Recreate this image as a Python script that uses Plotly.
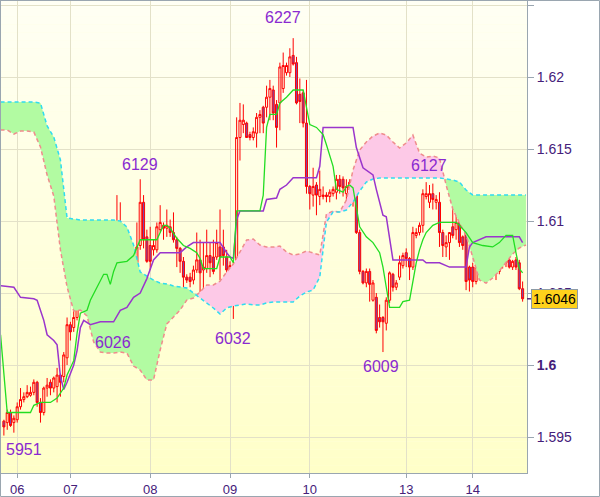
import plotly.graph_objects as go

# ---------------- data ----------------
candle_idx = list(range(1, 158))
opens = [1.5961,1.5960,1.5967,1.5960,1.5962,1.5971,1.5976,1.5978,1.5979,1.5981,
         1.5988,1.5974,1.5967,1.5984,1.5988,1.5984,1.5985,1.5993,1.5992,1.6005,
         1.6028,1.6026,1.6033,1.6063,1.6076,1.6082,1.6081,1.6081,1.6073,1.6058,
         1.6044,1.6038,1.6047,1.6054,1.6066,1.6095,1.6090,1.6090,1.6047,1.6064,
         1.6071,1.6083,1.6113,1.6089,1.6083,1.6080,1.6080,1.6094,1.6097,1.6095,
         1.6096,1.6092,1.6087,1.6081,1.6072,1.6061,1.6061,1.6059,1.6066,1.6073,
         1.6066,1.6067,1.6076,1.6075,1.6075,1.6082,1.6082,1.6075,1.6066,1.6069,
         1.6043,1.6158,1.6167,1.6168,1.6160,1.6158,1.6161,1.6172,1.6179,1.6179,
         1.6186,1.6191,1.6181,1.6182,1.6192,1.6203,1.6203,1.6215,1.6210,1.6188,
         1.6189,1.6168,1.6124,1.6118,1.6125,1.6117,1.6117,1.6118,1.6117,1.6119,
         1.6120,1.6129,1.6129,1.6119,1.6123,1.6127,1.6126,1.6092,1.6065,1.6057,
         1.6065,1.6045,1.6047,1.6033,1.6033,1.6029,1.6045,1.6063,1.6054,1.6061,
         1.6069,1.6078,1.6074,1.6068,1.6090,1.6092,1.6097,1.6117,1.6113,1.6119,
         1.6113,1.6113,1.6092,1.6082,1.6085,1.6096,1.6094,1.6099,1.6089,1.6092,
         1.6068,1.6068,1.6058,1.6063,1.6069,1.6068,1.6085,1.6080,1.6073,1.6065,
         1.6072,1.6074,1.6073,1.6068,1.6073,1.6071,1.6053]
highs = [1.5962,1.5969,1.5969,1.5965,1.5974,1.5984,1.5981,1.5986,1.5985,1.5990,
         1.5989,1.5977,1.5985,1.5991,1.5990,1.5992,1.5998,1.5994,1.6009,1.6033,
         1.6030,1.6040,1.6080,1.6099,1.6085,1.6086,1.6085,1.6083,1.6074,1.6059,
         1.6047,1.6050,1.6066,1.6068,1.6118,1.6113,1.6095,1.6092,1.6073,1.6082,
         1.6099,1.6129,1.6118,1.6094,1.6096,1.6087,1.6099,1.6111,1.6099,1.6108,
         1.6101,1.6106,1.6089,1.6082,1.6075,1.6063,1.6064,1.6069,1.6092,1.6087,
         1.6085,1.6094,1.6085,1.6087,1.6094,1.6108,1.6094,1.6080,1.6072,1.6072,
         1.6172,1.6182,1.6181,1.6169,1.6162,1.6165,1.6175,1.6177,1.6180,1.6194,
         1.6198,1.6194,1.6184,1.6210,1.6217,1.6210,1.6220,1.6227,1.6214,1.6199,
         1.6191,1.6198,1.6125,1.6137,1.6127,1.6135,1.6124,1.6120,1.6122,1.6124,
         1.6132,1.6132,1.6131,1.6129,1.6129,1.6129,1.6127,1.6094,1.6066,1.6067,
         1.6067,1.6059,1.6050,1.6042,1.6034,1.6047,1.6065,1.6064,1.6059,1.6076,
         1.6078,1.6081,1.6075,1.6096,1.6095,1.6099,1.6122,1.6127,1.6125,1.6126,
         1.6118,1.6120,1.6094,1.6090,1.6092,1.6116,1.6108,1.6100,1.6090,1.6093,
         1.6069,1.6071,1.6071,1.6071,1.6071,1.6113,1.6099,1.6082,1.6075,1.6075,
         1.6078,1.6078,1.6075,1.6073,1.6075,1.6073,1.6058]
lows = [1.5951,1.5955,1.5957,1.5953,1.5960,1.5969,1.5974,1.5977,1.5978,1.5979,
        1.5971,1.5960,1.5965,1.5978,1.5979,1.5981,1.5974,1.5978,1.5988,1.6000,
        1.6017,1.6023,1.6031,1.6052,1.6073,1.6078,1.6080,1.6072,1.6053,1.6038,
        1.6026,1.6031,1.6040,1.6052,1.6064,1.6075,1.6066,1.6047,1.6040,1.6054,
        1.6066,1.6080,1.6081,1.6071,1.6066,1.6076,1.6078,1.6092,1.6087,1.6089,
        1.6089,1.6085,1.6068,1.6064,1.6054,1.6057,1.6054,1.6056,1.6064,1.6047,
        1.6052,1.6064,1.6061,1.6063,1.6073,1.6059,1.6069,1.6059,1.6063,1.6032,
        1.6042,1.6142,1.6161,1.6158,1.6156,1.6156,1.6151,1.6161,1.6161,1.6172,
        1.6170,1.6170,1.6151,1.6163,1.6189,1.6201,1.6200,1.6208,1.6181,1.6168,
        1.6165,1.6119,1.6108,1.6110,1.6104,1.6111,1.6115,1.6113,1.6113,1.6117,
        1.6115,1.6119,1.6117,1.6113,1.6113,1.6110,1.6091,1.6063,1.6056,1.6054,
        1.6044,1.6044,1.6022,1.6026,1.6009,1.6024,1.6043,1.6051,1.6052,1.6059,
        1.6067,1.6068,1.6059,1.6066,1.6088,1.6090,1.6092,1.6115,1.6109,1.6108,
        1.6108,1.6082,1.6075,1.6075,1.6073,1.6088,1.6087,1.6082,1.6080,1.6052,
        1.6051,1.6054,1.6056,1.6059,1.6059,1.6064,1.6068,1.6066,1.6059,1.6063,
        1.6067,1.6068,1.6067,1.6066,1.6066,1.6052,1.6044]
closes = [1.5957,1.5967,1.5958,1.5963,1.5971,1.5976,1.5978,1.5981,1.5981,1.5988,
          1.5974,1.5967,1.5984,1.5986,1.5984,1.5991,1.5993,1.5988,1.6007,1.6028,
          1.6023,1.6033,1.6063,1.6080,1.6082,1.6083,1.6083,1.6073,1.6058,1.6044,
          1.6038,1.6047,1.6054,1.6066,1.6094,1.6090,1.6092,1.6047,1.6064,1.6071,
          1.6082,1.6113,1.6087,1.6072,1.6072,1.6083,1.6096,1.6099,1.6095,1.6097,
          1.6092,1.6087,1.6081,1.6072,1.6061,1.6059,1.6058,1.6066,1.6073,1.6064,
          1.6068,1.6076,1.6071,1.6065,1.6085,1.6075,1.6076,1.6066,1.6069,1.6043,
          1.6158,1.6170,1.6170,1.6158,1.6158,1.6162,1.6172,1.6174,1.6168,1.6186,
          1.6192,1.6175,1.6165,1.6207,1.6208,1.6208,1.6214,1.6209,1.6182,1.6183,
          1.6168,1.6124,1.6119,1.6124,1.6118,1.6122,1.6118,1.6117,1.6120,1.6122,
          1.6129,1.6124,1.6123,1.6124,1.6127,1.6123,1.6092,1.6065,1.6057,1.6065,
          1.6056,1.6057,1.6024,1.6030,1.6030,1.6045,1.6064,1.6054,1.6057,1.6071,
          1.6076,1.6074,1.6068,1.6092,1.6092,1.6097,1.6119,1.6119,1.6119,1.6115,
          1.6115,1.6092,1.6083,1.6085,1.6092,1.6090,1.6099,1.6085,1.6083,1.6058,
          1.6059,1.6058,1.6068,1.6069,1.6063,1.6083,1.6075,1.6068,1.6068,1.6073,
          1.6076,1.6071,1.6068,1.6072,1.6068,1.6053,1.6046]

tenkan_idx = [0,2,5,9,10,12,15,17,19,20,22,23,24,26,27,29,31,32,33,34,35,38,40,42,47,49,50,51,
              53,55,57,59,60,61,65,66,69,70,71,78,79,80,81,83,84,86,88,91,92,93,95,97,98,99,
              100,101,103,104,105,106,107,108,110,112,114,115,116,117,120,121,123,124,125,126,
              127,128,130,132,137,138,140,142,145,148,150,152,154,155,156,157]
tenkan_val = [1.6021,1.5967,1.5967,1.5967,1.5972,1.5974,1.5974,1.5977,1.5984,1.5993,1.6003,
              1.6022,1.6036,1.6038,1.6045,1.6054,1.6063,1.6063,1.6056,1.6065,1.6071,1.6072,
              1.6076,1.6087,1.6087,1.6097,1.6097,1.6095,1.6088,1.6083,1.6081,1.6078,1.6074,
              1.6067,1.6067,1.6075,1.6075,1.6071,1.6107,1.6107,1.6118,1.6165,1.6174,1.6174,
              1.6182,1.6186,1.6191,1.6191,1.6179,1.6167,1.6165,1.6160,1.6153,1.6146,1.6138,
              1.6122,1.6120,1.6124,1.6125,1.6123,1.6108,1.6096,1.6089,1.6085,1.6078,1.6068,
              1.6054,1.6040,1.6040,1.6044,1.6045,1.6059,1.6071,1.6080,1.6087,1.6092,1.6097,
              1.6099,1.6099,1.6097,1.6092,1.6085,1.6083,1.6082,1.6085,1.6090,1.6090,1.6078,
              1.6067,1.6064]

kijun_idx = [0,4,6,10,11,13,14,16,17,18,19,20,22,23,24,25,27,30,34,36,38,40,42,44,46,48,54,
             56,58,66,68,69,70,71,72,79,80,83,84,86,88,95,96,97,106,107,109,112,113,115,116,
             118,127,128,132,135,140,141,142,144,146,156,157]
kijun_val = [1.6055,1.6054,1.6047,1.6046,1.6045,1.6031,1.6021,1.6017,1.6014,1.5992,1.5983,
             1.5988,1.6000,1.6010,1.6026,1.6031,1.6028,1.6030,1.6030,1.6038,1.6040,1.6047,
             1.6050,1.6060,1.6073,1.6078,1.6078,1.6082,1.6085,1.6085,1.6078,1.6075,1.6074,
             1.6101,1.6107,1.6107,1.6115,1.6116,1.6122,1.6125,1.6130,1.6130,1.6138,1.6165,
             1.6165,1.6151,1.6137,1.6132,1.6122,1.6104,1.6103,1.6073,1.6073,1.6071,1.6071,
             1.6068,1.6068,1.6082,1.6085,1.6087,1.6089,1.6089,1.6085]

cloud_idx = list(range(0, 159, 2))
span_a = [1.61826,1.61826,1.61826,1.61826,1.61826,1.61826,1.61819,1.61660,1.61583,1.61424,
          1.61021,1.61014,1.61007,1.61007,1.61007,1.61007,1.61007,1.61007,1.61000,1.60958,
          1.60833,1.60646,1.60618,1.60590,1.60569,1.60563,1.60549,1.60542,1.60535,1.60500,
          1.60465,1.60431,1.60396,1.60354,1.60396,1.60410,1.60417,1.60424,1.60417,1.60417,
          1.60431,1.60438,1.60438,1.60438,1.60438,1.60479,1.60507,1.60521,1.60611,1.60993,
          1.61063,1.61063,1.61076,1.61132,1.61208,1.61271,1.61292,1.61299,1.61299,1.61299,
          1.61299,1.61299,1.61299,1.61299,1.61299,1.61299,1.61299,1.61292,1.61285,1.61271,
          1.61215,1.61181,1.61181,1.61181,1.61181,1.61181,1.61181,1.61181,1.61181,1.61181]
span_b = [1.61632,1.61632,1.61604,1.61625,1.61625,1.61618,1.61514,1.61319,1.61174,1.60799,
          1.60542,1.60375,1.60382,1.60340,1.60160,1.60090,1.60083,1.60083,1.60090,1.60083,
          1.59993,1.59965,1.59896,1.59896,1.60104,1.60285,1.60333,1.60382,1.60451,1.60465,
          1.60507,1.60556,1.60556,1.60583,1.60646,1.60701,1.60785,1.60868,1.60875,1.60833,
          1.60819,1.60819,1.60826,1.60785,1.60764,1.60771,1.60792,1.60778,1.60764,1.61049,
          1.61069,1.61063,1.61146,1.61354,1.61493,1.61549,1.61590,1.61611,1.61597,1.61549,
          1.61507,1.61542,1.61597,1.61472,1.61444,1.61451,1.61438,1.61250,1.61083,1.60986,
          1.60903,1.60750,1.60590,1.60569,1.60604,1.60653,1.60708,1.60771,1.60813,1.60833]

day_ticks = [5, 21, 45, 69, 93, 122, 142]
day_labels = ["06", "07", "08", "09", "10", "13", "14"]
price_ticks = [1.595, 1.6, 1.605, 1.61, 1.615, 1.62, 1.625]
price_labels = ["1.595", "<b>1.6</b>", "1.605", "1.61", "1.615", "1.62", "1.625"]

# extreme labels: (text, candle index, 'high'/'low')
extremes = [("5951", 1, "low"), ("6026", 31, "low"), ("6129", 42, "high"),
            ("6032", 70, "low"), ("6227", 88, "high"), ("6009", 115, "low"),
            ("6127", 128, "high")]
label_shift = {"5951": (20, -3), "6026": (9, -4), "6129": (0, 4), "6032": (0, -9),
               "6227": (-10, 10), "6009": (-2, -4), "6127": (3, 6)}
last_price = closes[-1]

# ---------------- figure ----------------
GREEN_FILL = "#b2fba2"
PINK_FILL = "#fdc9e7"
fig = go.Figure()


def cloud_regions(xs, a, b):
    regs = []
    px, pa, pb = [], [], []
    prev = None
    for k in range(len(xs)):
        s = a[k] >= b[k]
        if prev is not None and s != prev:
            d0 = a[k - 1] - b[k - 1]
            d1 = a[k] - b[k]
            t = d0 / (d0 - d1)
            xc = xs[k - 1] + t * (xs[k] - xs[k - 1])
            yc = a[k - 1] + t * (a[k] - a[k - 1])
            px.append(xc); pa.append(yc); pb.append(yc)
            regs.append((prev, px, pa, pb))
            px, pa, pb = [xc], [yc], [yc]
        px.append(xs[k]); pa.append(a[k]); pb.append(b[k])
        prev = s
    regs.append((prev, px, pa, pb))
    return regs


for up, px, pa, pb in cloud_regions(cloud_idx, span_a, span_b):
    fig.add_trace(go.Scatter(x=px + px[::-1], y=pa + pb[::-1], fill="toself",
                             fillcolor=GREEN_FILL if up else PINK_FILL,
                             line=dict(width=0), mode="lines", hoverinfo="skip",
                             showlegend=False))

fig.add_trace(go.Scatter(x=cloud_idx, y=span_b, mode="lines",
                         line=dict(color="#ef8c8c", width=1.5, dash="4px,3px"),
                         hoverinfo="skip", showlegend=False))
fig.add_trace(go.Scatter(x=cloud_idx, y=span_a, mode="lines",
                         line=dict(color="#2fdcf0", width=1.5, dash="4px,3px"),
                         hoverinfo="skip", showlegend=False))
fig.add_trace(go.Scatter(x=kijun_idx, y=kijun_val, mode="lines",
                         line=dict(color="#9a35cc", width=1.5),
                         hoverinfo="skip", showlegend=False))
fig.add_trace(go.Scatter(x=tenkan_idx, y=tenkan_val, mode="lines",
                         line=dict(color="#22dd22", width=1.3),
                         hoverinfo="skip", showlegend=False))

fig.add_trace(go.Candlestick(
    x=candle_idx, open=opens, high=highs, low=lows, close=closes,
    increasing=dict(line=dict(color="#ff0000", width=1), fillcolor="rgba(0,0,0,0)"),
    decreasing=dict(line=dict(color="#ff0000", width=1), fillcolor="#7e48a8"),
    whiskerwidth=0, hoverinfo="skip", showlegend=False))

# gradient background bands
shapes = []
nb = 60
top_c = (255, 255, 244)
bot_c = (255, 255, 200)
for k in range(nb):
    f = (k + 0.5) / nb
    c = tuple(int(round(bot_c[j] + (top_c[j] - bot_c[j]) * f)) for j in range(3))
    shapes.append(dict(type="rect", xref="paper", yref="paper", x0=0, x1=1,
                       y0=k / nb, y1=(k + 1) / nb, fillcolor="rgb(%d,%d,%d)" % c,
                       line=dict(width=0), layer="below"))
# outer frame of the whole picture
shapes.append(dict(type="rect", xref="paper", yref="paper",
                   x0=-0.5 / 526, x1=598.5 / 526, y0=-23.5 / 472, y1=472.5 / 472,
                   line=dict(color="#9aa6b0", width=1), fillcolor="rgba(0,0,0,0)",
                   layer="above"))
# price marker stub
shapes.append(dict(type="line", xref="paper", yref="y", x0=1, x1=1.0076,
                   y0=last_price, y1=last_price, line=dict(color="#5a2a7a", width=1.5)))

annotations = []
for txt, ci, kind in extremes:
    k = candle_idx.index(ci)
    yv = highs[k] if kind == "high" else lows[k]
    dx, dy = label_shift[txt]
    annotations.append(dict(x=ci, y=yv, xref="x", yref="y", text=txt, showarrow=False,
                            xanchor="center", yanchor="bottom" if kind == "high" else "top",
                            xshift=dx, yshift=dy,
                            font=dict(family="Liberation Sans, Arial, sans-serif",
                                      size=16, color="#8a2ad0")))
annotations.append(dict(x=1.0076, y=last_price, xref="paper", yref="y",
                        text="%.4f" % last_price, showarrow=False, xanchor="left",
                        yanchor="middle", bgcolor="#ffd21c", bordercolor="#8c9aa6",
                        borderwidth=1, borderpad=1,
                        font=dict(family="Liberation Sans, Arial, sans-serif",
                                  size=14, color="#000000")))

axis_font = dict(family="Liberation Sans, Arial, sans-serif", size=14, color="#45207a")
xaxis_font = dict(family="Liberation Sans, Arial, sans-serif", size=13, color="#45207a")
fig.update_layout(
    width=600, height=497,
    margin=dict(l=1, r=73, t=1, b=24, autoexpand=False),
    paper_bgcolor="#ffffff", plot_bgcolor="#ffffe0",
    boxgap=0.12,
    shapes=shapes, annotations=annotations, showlegend=False,
    xaxis=dict(range=[0.13, 158.32], tickvals=day_ticks, ticktext=day_labels,
               showgrid=True, gridcolor="#e3e1c8", gridwidth=1, zeroline=False,
               showline=True, mirror=True, linecolor="#9aa6b0", linewidth=1,
               ticks="outside", ticklen=4, tickcolor="#9aa6b0", tickfont=xaxis_font,
               rangeslider=dict(visible=False), fixedrange=True, automargin=False),
    yaxis=dict(range=[1.5925, 1.62528], side="right", tickvals=price_ticks,
               ticktext=price_labels, showgrid=True, gridcolor="#e3e1c8", gridwidth=1,
               zeroline=False, showline=True, mirror=True, linecolor="#9aa6b0",
               linewidth=1, ticks="outside", ticklen=6, tickcolor="#9aa6b0",
               tickfont=axis_font, fixedrange=True, automargin=False),
)

fig.write_html("out.html",
               config={"displayModeBar": False, "staticPlot": True},
               post_script="document.body.style.margin='0px';"
                           "document.body.style.overflow='hidden';")
